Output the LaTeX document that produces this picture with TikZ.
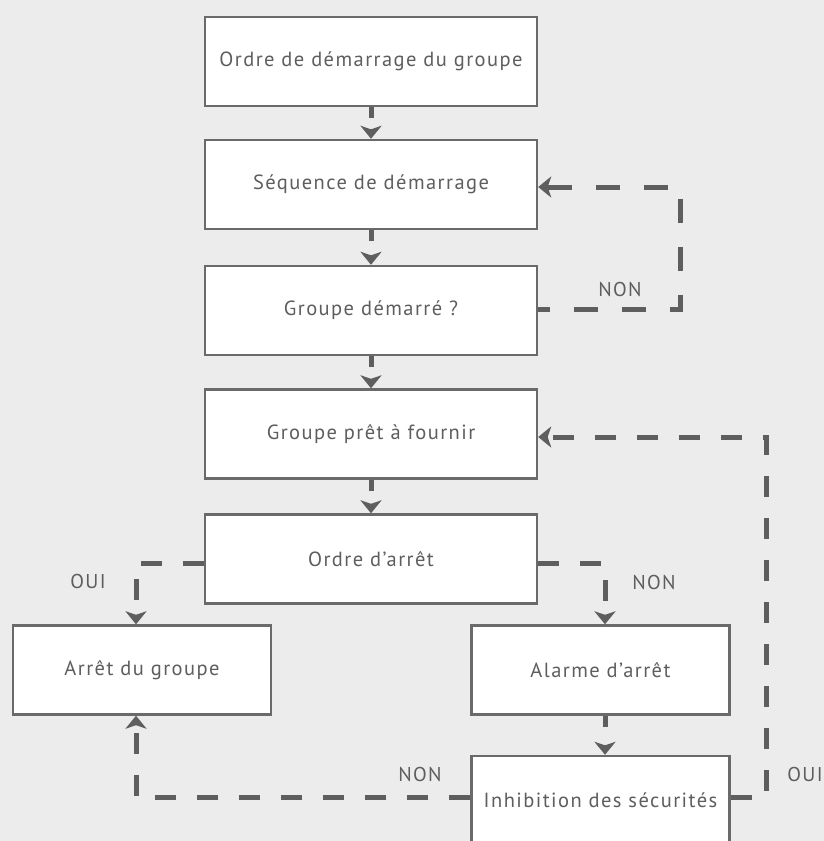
\documentclass[tikz,border=0pt]{standalone}
\usepackage{fontspec}
\setmainfont{PT Sans}[LetterSpace=7]
\usetikzlibrary{arrows.meta}
\definecolor{bg}{HTML}{ECECEC}
\definecolor{ln}{HTML}{5E5E5E}
\definecolor{bx}{HTML}{6A6A6A}
\definecolor{tx}{HTML}{5E5E5E}
\begin{document}
\begin{tikzpicture}[x=1pt,y=-1pt,
 box/.style={draw=bx, line width=2.4pt, fill=white, minimum width=332pt, minimum height=89pt, inner sep=0pt, font=\fontsize{20.5}{22}\selectfont, text=tx},
 sbox/.style={box, minimum width=258pt},
 lbl/.style={font=\fontsize{20}{22}\selectfont, text=tx, inner sep=0pt},
 conn/.style={draw=ln, line width=5pt, dash pattern=on 21pt off 21pt, -{Stealth[length=13pt,width=21pt,inset=3.5pt]}},
 stub/.style={conn, dash pattern=on 11pt off 40pt}
]
\fill[bg] (0,0) rectangle (824,841);
\useasboundingbox (0,0) rectangle (824,841);
\node[box] (b1) at (371,61.5) {Ordre de démarrage du groupe};
\node[box] (b2) at (371,184.5) {Séquence de démarrage};
\node[box] (b3) at (371,310.5) {Groupe démarré ?};
\node[box] (b4) at (371,434) {Groupe prêt à fournir};
\node[box] (b5) at (371,559) {Ordre d’arrêt};
\node[sbox] (b6) at (142,670) {Arrêt du groupe};
\node[sbox] (b7) at (600.5,670) {Alarme d’arrêt};
\node[sbox] (b8) at (600.5,800.5) {Inhibition des sécurités};
\coordinate (tr) at (680,187);
\coordinate (rr) at (766,437);
\draw[stub] (b1.south) -- (b2.north);
\draw[stub] (b2.south) -- (b3.north);
\draw[stub] (b3.south) -- (b4.north);
\draw[stub] (b4.south) -- (b5.north);
\draw[stub] ([xshift=4.5pt]b7.south) -- ([xshift=4.5pt]b8.north);
\draw[conn, dash pattern=on 24pt off 24pt, dash phase=12pt] ([yshift=1pt]b3.east) -| (tr) -- ([yshift=-2.5pt]b2.east);
\draw[conn] ([yshift=-4pt]b5.west) -| ([xshift=-6pt]b6.north);
\draw[conn] ([yshift=-4pt]b5.east) -| ([xshift=4.5pt]b7.north);
\draw[conn] ([yshift=3pt]b8.west) -| ([xshift=-6pt]b6.south);
\draw[conn] ([yshift=3pt]b8.east) -| (rr) -- ([yshift=-3pt]b4.east);
\node[lbl] (l1) at (620,289) {NON};
\node[lbl] (l2) at (88,581) {OUI};
\node[lbl] (l3) at (654,582) {NON};
\node[lbl] (l4) at (420,774) {NON};
\node[lbl] (l5) at (805,774) {OUI};
\end{tikzpicture}
\end{document}
